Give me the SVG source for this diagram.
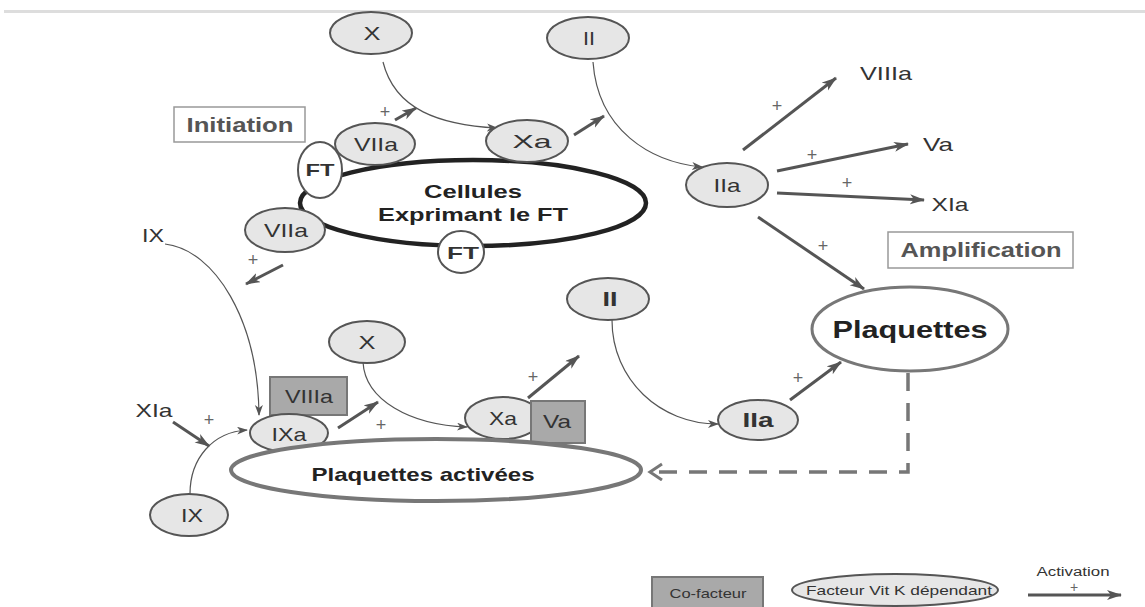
<svg xmlns="http://www.w3.org/2000/svg" width="1145" height="607" viewBox="0 0 1145 607">
  <defs>
    <style>
      .f { fill: #e6e6e6; stroke: #555; stroke-width: 2; }
      .w { fill: #fff; stroke: #555; stroke-width: 2; }
      .co { fill: #a9a9a9; stroke: #777; stroke-width: 2; }
      .t { font-family: "Liberation Sans", Arial, sans-serif; fill: #333; text-anchor: middle; }
      .b { font-weight: bold; }
      .thin { fill: none; stroke: #555; stroke-width: 1.2; marker-end: url(#hs); }
      .thick { fill: none; stroke: #555; stroke-width: 3; marker-end: url(#hl); }
      .plus { font-family: "Liberation Sans", Arial, sans-serif; font-size: 18px; fill: #666; text-anchor: middle; }
      .phase { fill: #fff; stroke: #999; stroke-width: 1.5; }
    </style>
    <marker id="hs" markerUnits="userSpaceOnUse" markerWidth="12" markerHeight="10" refX="10" refY="4" orient="auto">
      <path d="M0,0 L11,4 L0,8 L3,4 Z" fill="#555"/>
    </marker>
    <marker id="hl" markerUnits="userSpaceOnUse" markerWidth="16" markerHeight="12" refX="14" refY="5" orient="auto">
      <path d="M0,0 L15,5 L0,10 L4,5 Z" fill="#555"/>
    </marker>
    <marker id="ho" markerUnits="userSpaceOnUse" markerWidth="18" markerHeight="20" refX="14" refY="9" orient="auto">
      <path d="M2,1 L14,9 L2,17" fill="none" stroke="#777" stroke-width="3"/>
    </marker>
  </defs>

  <rect x="4" y="10" width="1141" height="3" fill="#ddd"/>

  <!-- connectors -->
  <g id="connectors">
    <path class="thin" d="M383,62 C395,110 440,125 497,128"/>
    <path class="thin" d="M593,62 C598,130 650,162 702,167"/>
    <path class="thin" d="M165,244 C215,250 258,320 259,415"/>
    <path class="thin" d="M190,494 C190,458 213,432 247,430"/>
    <path class="thin" d="M363,362 C365,400 410,425 467,427"/>
    <path class="thin" d="M612,320 C612,380 660,424 718,424"/>

    <path class="thick" d="M395,120 L416,108"/>
    <path class="thick" d="M574,135 L604,116"/>
    <path class="thick" d="M743,150 L836,78"/>
    <path class="thick" d="M777,171 L908,144"/>
    <path class="thick" d="M777,193 L924,200"/>
    <path class="thick" d="M758,217 L864,289"/>
    <path class="thick" d="M283,265 L246,284"/>
    <path class="thick" d="M173,422 L209,446"/>
    <path class="thick" d="M338,428 L378,402"/>
    <path class="thick" d="M528,398 L579,356"/>
    <path class="thick" d="M790,400 L841,362"/>

    <path d="M908,373 L908,472 L650,472" fill="none" stroke="#777" stroke-width="3.5" stroke-dasharray="18,12" marker-end="url(#ho)"/>

    <text class="plus" x="385" y="118">+</text>
    <text class="plus" x="777" y="112">+</text>
    <text class="plus" x="812" y="161">+</text>
    <text class="plus" x="847" y="189">+</text>
    <text class="plus" x="823" y="252">+</text>
    <text class="plus" x="253" y="266">+</text>
    <text class="plus" x="209" y="426">+</text>
    <text class="plus" x="381" y="431">+</text>
    <text class="plus" x="533" y="383">+</text>
    <text class="plus" x="798" y="384">+</text>
  </g>

  <!-- phase labels -->
  <g id="initiation">
    <rect class="phase" x="174" y="107" width="131" height="35"/>
    <text class="t b" x="240" y="132" font-size="20" textLength="107" lengthAdjust="spacingAndGlyphs" style="fill:#555">Initiation</text>
  </g>
  <g id="amplification">
    <rect class="phase" x="888" y="232" width="185" height="36"/>
    <text class="t b" x="981" y="257" font-size="20" textLength="161" lengthAdjust="spacingAndGlyphs" style="fill:#555">Amplification</text>
  </g>

  <!-- initiation cell -->
  <g id="cellules">
    <ellipse cx="473" cy="203" rx="173" ry="43" fill="#fff" stroke="#222" stroke-width="4.5"/>
    <text class="t b" x="473" y="198" font-size="19" textLength="98" lengthAdjust="spacingAndGlyphs" style="fill:#222">Cellules</text>
    <text class="t b" x="473" y="221" font-size="19" textLength="190" lengthAdjust="spacingAndGlyphs" style="fill:#222">Exprimant le FT</text>
  </g>
  <g id="viia-top">
    <ellipse class="f" cx="375" cy="144" rx="40" ry="21"/>
    <text class="t" x="376" y="151" font-size="19" textLength="44" lengthAdjust="spacingAndGlyphs">VIIa</text>
  </g>
  <g id="ft-left">
    <ellipse class="w" cx="320" cy="170" rx="22" ry="28"/>
    <text class="t b" x="320" y="176" font-size="17" textLength="29" lengthAdjust="spacingAndGlyphs">FT</text>
  </g>
  <g id="xa-top">
    <ellipse class="f" cx="527" cy="141" rx="41" ry="21"/>
    <text class="t" x="532" y="148" font-size="19" textLength="39" lengthAdjust="spacingAndGlyphs">Xa</text>
  </g>
  <g id="viia-low">
    <ellipse class="f" cx="285" cy="230" rx="40" ry="22"/>
    <text class="t" x="286" y="237" font-size="19" textLength="44" lengthAdjust="spacingAndGlyphs">VIIa</text>
  </g>
  <g id="ft-bottom">
    <ellipse class="w" cx="461" cy="252" rx="23" ry="21"/>
    <text class="t b" x="463" y="259" font-size="17" textLength="32" lengthAdjust="spacingAndGlyphs">FT</text>
  </g>

  <g id="x-top">
    <ellipse class="f" cx="371" cy="33" rx="41" ry="21"/>
    <text class="t" x="372" y="40" font-size="19" textLength="17" lengthAdjust="spacingAndGlyphs">X</text>
  </g>
  <g id="ii-top">
    <ellipse class="f" cx="588" cy="38" rx="41" ry="21"/>
    <text class="t" x="589" y="45" font-size="19" textLength="12" lengthAdjust="spacingAndGlyphs">II</text>
  </g>
  <g id="iia-top">
    <ellipse class="f" cx="727" cy="185" rx="41" ry="22"/>
    <text class="t" x="727" y="192" font-size="19" textLength="27" lengthAdjust="spacingAndGlyphs">IIa</text>
  </g>
  <g id="lbl-viiia">
    <text class="t" x="886" y="80" font-size="19" textLength="52" lengthAdjust="spacingAndGlyphs">VIIIa</text>
  </g>
  <g id="lbl-va">
    <text class="t" x="938" y="151" font-size="19" textLength="30" lengthAdjust="spacingAndGlyphs">Va</text>
  </g>
  <g id="lbl-xia">
    <text class="t" x="950" y="211" font-size="19" textLength="37" lengthAdjust="spacingAndGlyphs">XIa</text>
  </g>

  <g id="plaquettes">
    <ellipse cx="910" cy="329" rx="98" ry="42" fill="#fff" stroke="#777" stroke-width="3"/>
    <text class="t b" x="910" y="338" font-size="24" textLength="155" lengthAdjust="spacingAndGlyphs" style="fill:#222">Plaquettes</text>
  </g>

  <!-- propagation on activated platelets -->
  <g id="lbl-ix">
    <text class="t" x="153" y="242" font-size="19" textLength="22" lengthAdjust="spacingAndGlyphs">IX</text>
  </g>
  <g id="lbl-xia-left">
    <text class="t" x="154" y="417" font-size="19" textLength="37" lengthAdjust="spacingAndGlyphs">XIa</text>
  </g>
  <g id="ix-bottom">
    <ellipse class="f" cx="189" cy="515" rx="39" ry="21"/>
    <text class="t" x="192" y="522" font-size="19" textLength="22" lengthAdjust="spacingAndGlyphs">IX</text>
  </g>
  <g id="viiia-box">
    <rect class="co" x="270" y="377" width="77" height="38"/>
    <text class="t" x="309" y="403" font-size="19" textLength="48" lengthAdjust="spacingAndGlyphs">VIIIa</text>
  </g>
  <g id="ixa">
    <ellipse class="f" cx="289" cy="433" rx="39" ry="19"/>
    <text class="t" x="289" y="441" font-size="19" textLength="35" lengthAdjust="spacingAndGlyphs">IXa</text>
  </g>
  <g id="x-bottom">
    <ellipse class="f" cx="367" cy="342" rx="38" ry="21"/>
    <text class="t" x="367" y="349" font-size="19" textLength="17" lengthAdjust="spacingAndGlyphs">X</text>
  </g>
  <g id="xa-bottom">
    <ellipse class="f" cx="503" cy="418" rx="38" ry="21"/>
    <text class="t" x="503" y="425" font-size="19" textLength="28" lengthAdjust="spacingAndGlyphs">Xa</text>
  </g>
  <g id="va-box">
    <rect class="co" x="531" y="401" width="54" height="42"/>
    <text class="t" x="557" y="428" font-size="19" textLength="28" lengthAdjust="spacingAndGlyphs">Va</text>
  </g>
  <g id="plaquettes-activees">
    <ellipse cx="436" cy="470" rx="205" ry="31" fill="#fff" stroke="#777" stroke-width="4"/>
    <text class="t b" x="423" y="481" font-size="19" textLength="223" lengthAdjust="spacingAndGlyphs" style="fill:#222">Plaquettes activées</text>
  </g>
  <g id="ii-bottom">
    <ellipse class="f" cx="608" cy="299" rx="41" ry="21"/>
    <text class="t b" x="610" y="306" font-size="20" textLength="15" lengthAdjust="spacingAndGlyphs">II</text>
  </g>
  <g id="iia-bottom">
    <ellipse class="f" cx="758" cy="420" rx="40" ry="20"/>
    <text class="t b" x="758" y="427" font-size="20" textLength="31" lengthAdjust="spacingAndGlyphs">IIa</text>
  </g>

  <!-- legend -->
  <g id="legend">
    <rect class="co" x="652" y="577" width="111" height="32" stroke="#444"/>
    <text class="t" x="708" y="598" font-size="13" textLength="77" lengthAdjust="spacingAndGlyphs">Co-facteur</text>
    <ellipse cx="895" cy="590" rx="103" ry="16" fill="#e6e6e6" stroke="#555" stroke-width="2"/>
    <text class="t" x="899" y="595" font-size="13" textLength="186" lengthAdjust="spacingAndGlyphs">Facteur Vit K dépendant</text>
    <text class="t" x="1073" y="576" font-size="12" textLength="73" lengthAdjust="spacingAndGlyphs">Activation</text>
    <text class="plus" x="1074" y="592" style="font-size:14px">+</text>
    <path class="thick" d="M1028,595 L1121,595"/>
  </g>
</svg>
